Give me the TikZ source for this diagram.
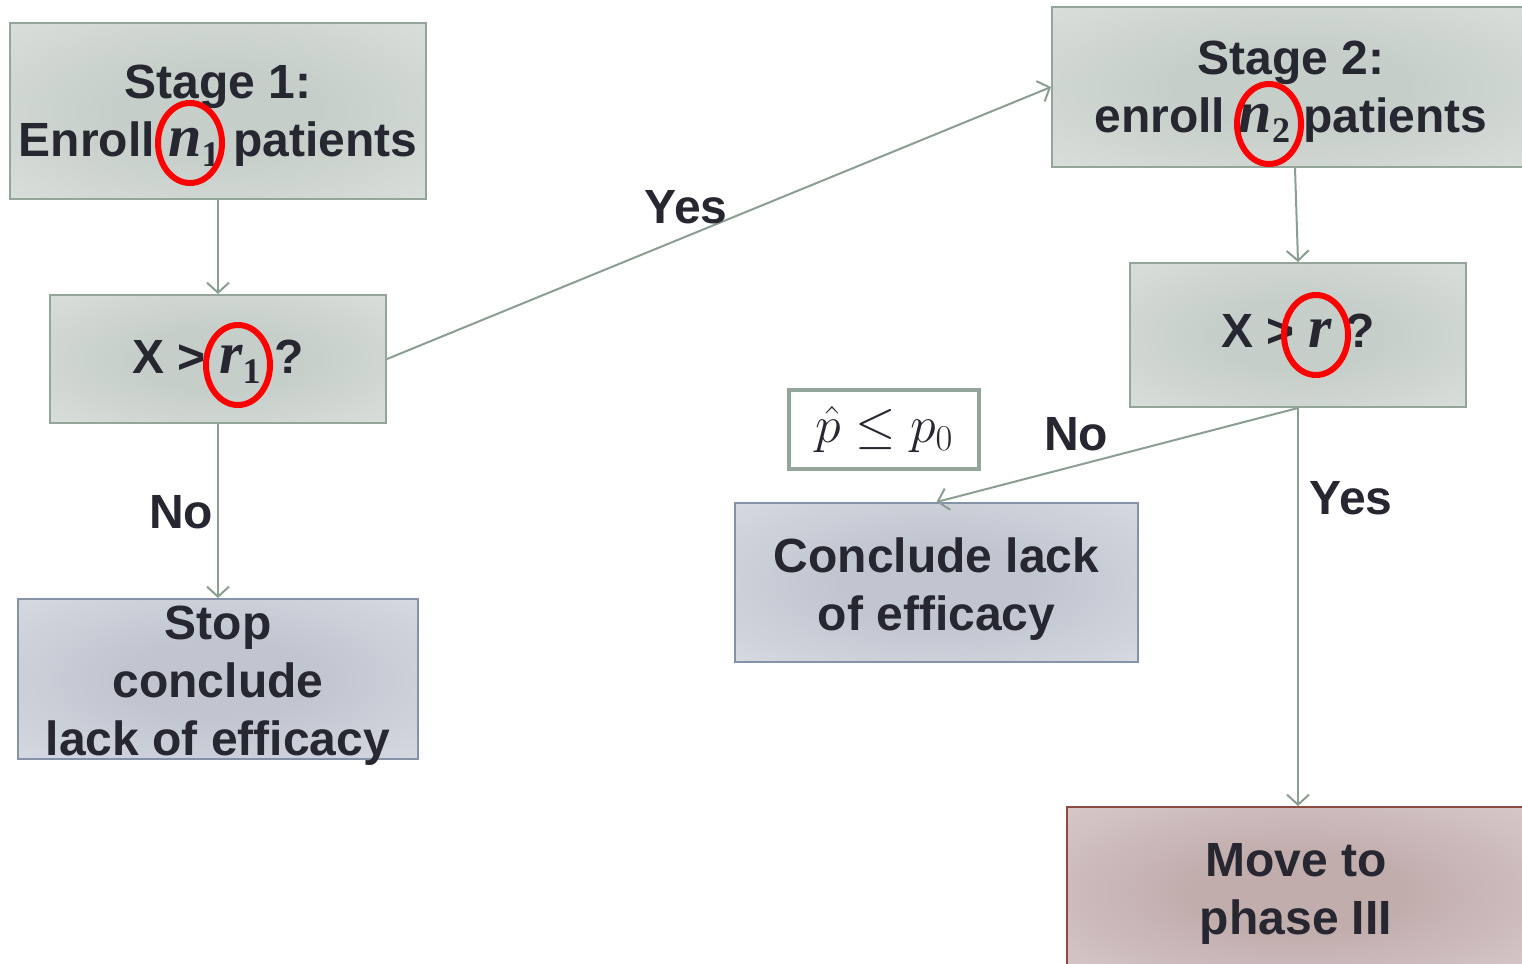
\RequirePackage{fix-cm}
\documentclass[tikz,border=0pt]{standalone}
\usepackage{fontspec}
\setsansfont{Liberation Sans}
\newfontfamily\paramfont{Liberation Serif}
\usepackage{amsmath}
\usetikzlibrary{arrows.meta,shapes.geometric}

\definecolor{ink}{HTML}{272732}
\definecolor{sagefill}{HTML}{C6CEC9}
\definecolor{sageedge}{HTML}{E3E8E4}
\definecolor{sageline}{HTML}{94A69A}
\definecolor{slatefill}{HTML}{C0C5D0}
\definecolor{slateedge}{HTML}{E2E5EA}
\definecolor{slateline}{HTML}{8592A8}
\definecolor{rosefill}{HTML}{C2ADAD}
\definecolor{roseedge}{HTML}{E3D9D9}
\definecolor{roseline}{HTML}{8C4B40}
\definecolor{wire}{HTML}{8A9E92}

% soft radial fills, darkest in the middle of each box
\pgfdeclareradialshading{sageshade}{\pgfpoint{0bp}{0bp}}{color(0bp)=(sagefill); color(12bp)=(sagefill); color(50bp)=(sageedge); color(100bp)=(sageedge)}
\pgfdeclareradialshading{slateshade}{\pgfpoint{0bp}{0bp}}{color(0bp)=(slatefill); color(12bp)=(slatefill); color(50bp)=(slateedge); color(100bp)=(slateedge)}
\pgfdeclareradialshading{roseshade}{\pgfpoint{0bp}{0bp}}{color(0bp)=(rosefill); color(12bp)=(rosefill); color(50bp)=(roseedge); color(100bp)=(roseedge)}

\newcommand\diagfont{\fontsize{48}{58}\selectfont\sffamily\bfseries}
% design parameter: bold italic letter with an upright subscript
\newcommand\param[2]{{\paramfont\bfseries\itshape\fontsize{60}{60}\selectfont #1}%
  \raisebox{-0.2em}{\paramfont\bfseries\fontsize{36}{36}\selectfont #2}}

\tikzset{
  basebox/.style={rectangle, line width=2, inner sep=0},
  sagebox/.style={basebox, draw=sageline, shading=sageshade},
  slatebox/.style={basebox, draw=slateline, shading=slateshade},
  rosebox/.style={basebox, draw=roseline, shading=roseshade},
  boxtext/.style={align=center, font=\diagfont, text=ink, inner sep=0},
  flow/.style={draw=wire, line width=2, -{Straight Barb[length=10,width=22,line width=2]}},
  tag/.style={font=\diagfont, text=ink},
  ring/.style={ellipse, draw=red, line width=6, inner sep=0},
}

\begin{document}
\begin{tikzpicture}[x=1pt,y=-1pt]
\useasboundingbox (0,0) rectangle (1522,963);
\clip (0,0) rectangle (1522,963);

% decision flow boxes
\node[sagebox, minimum width=416, minimum height=176] (s1) at (218,111) {};
\node[sagebox, minimum width=336, minimum height=128] (q1) at (218,359) {};
\node[sagebox, minimum width=478, minimum height=160] (s2) at (1291,87) {};
\node[sagebox, minimum width=336, minimum height=144] (q2) at (1298,335) {};
\node[slatebox, minimum width=400, minimum height=160] (stop) at (218,679) {};
\node[slatebox, minimum width=403, minimum height=159] (c2) at (936.5,582.5) {};
\node[rosebox, minimum width=458, minimum height=170] (move) at (1296,892) {};

% box texts
\node[boxtext] (s1t) at ([yshift=-5]s1.center) {Stage 1:\\Enroll \param{n}{1} patients};
\node[boxtext] (q1t) at ([yshift=-3]q1.center) {X > \param{r}{1} ?};
\node[boxtext] (s2t) at ([yshift=-5]s2.center) {Stage 2:\\enroll \param{n}{2} patients};
\node[boxtext] (q2t) at ([yshift=-1]q2.center) {X > \param{r}{} ?};
\node[boxtext] (stopt) at ([yshift=-7]stop.center) {Stop\\conclude\\lack of efficacy};
\node[boxtext] (c2t) at ([yshift=-7]c2.center) {Conclude lack\\of efficacy};
\node[boxtext] (movet) at ([yshift=-2]move.center) {Move to\\phase III};

% rule for the second-stage failure
\node[draw=sageline, line width=4, fill=white, minimum width=190, minimum height=79,
  inner sep=0, text=ink, font=\fontsize{52}{60}\selectfont] (rule) at (884,429.5)
  {$\hat p \le p_0$};

% connectors
\draw[flow] (s1.south) -- (q1.north);
\draw[flow] (q1.east) -- (s2.west);
\draw[flow] (q1.south) -- (stop.north);
\draw[flow] ([xshift=4]s2.south) -- (q2.north);
\draw[flow] (q2.south) -- (c2.north);
\draw[flow] (q2.south) -- (q2.south |- move.north);

% branch labels
\node[tag] (yes1) at (686,207) {Yes};
\node[tag] (no1) at (181,512) {No};
\node[tag] (no2) at (1076,434) {No};
\node[tag] (yes2) at (1351,498) {Yes};

% highlighted design parameters
\node[ring, minimum width=64, minimum height=80] (ringn1) at (190,143) {};
\node[ring, minimum width=64, minimum height=80] (ringn2) at (1269,124) {};
\node[ring, minimum width=64, minimum height=80] (ringr1) at (238,365) {};
\node[ring, minimum width=64, minimum height=80] (ringr) at (1316,335) {};
\end{tikzpicture}
\end{document}
